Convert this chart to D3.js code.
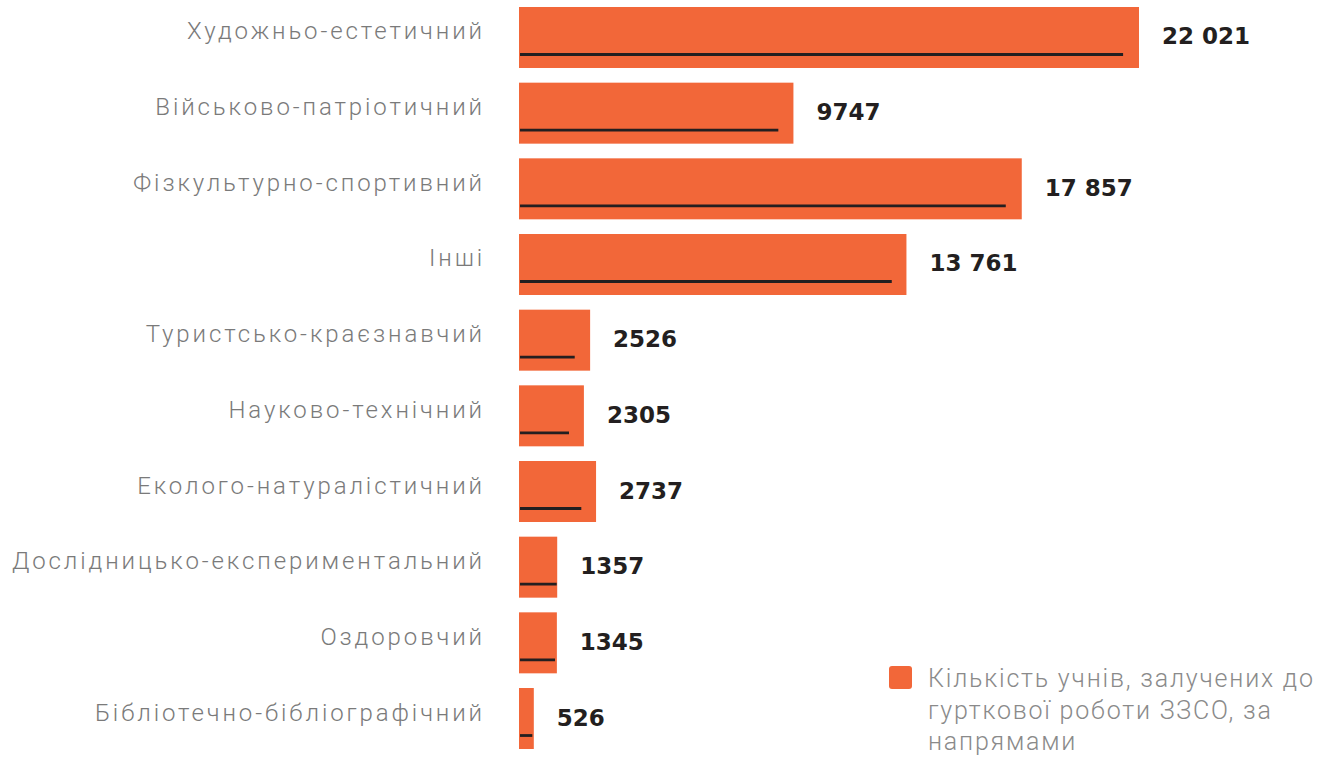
<!DOCTYPE html>
<html>
<head>
<meta charset="utf-8">
<script src="https://cdn.jsdelivr.net/npm/d3@7"></script>
<style>
  html, body { margin: 0; padding: 0; background: #fff; }
  svg { display: block; }
</style>
</head>
<body>
<svg id="chart" width="1334" height="758"></svg>
<script>
const categories = [
  "Художньо-естетичний",
  "Військово-патріотичний",
  "Фізкультурно-спортивний",
  "Інші",
  "Туристсько-краєзнавчий",
  "Науково-технічний",
  "Еколого-натуралістичний",
  "Дослідницько-експериментальний",
  "Оздоровчий",
  "Бібліотечно-бібліографічний"
];
const values = [22021, 9747, 17857, 13761, 2526, 2305, 2737, 1357, 1345, 526];
// dark underline inside each bar
const underlineValues = [21456, 9211, 17289, 13240, 1979, 1776, 2213, 1339, 1279, 472];
const valueLabels = ["22 021", "9747", "17 857", "13 761", "2526", "2305", "2737", "1357", "1345", "526"];
const legendLines = ["Кількість учнів, залучених до", "гурткової роботи ЗЗСО, за", "напрямами"];

const svg = d3.select("#chart");
const orange = "#f26739";
const dark = "#231f20";

const x = d3.scaleLinear().domain([0, 22021]).range([519, 1139]);
const y = d3.scaleBand().domain(categories).range([7, 749]).paddingInner(0.194).paddingOuter(0);

const rows = svg.selectAll("g.row").data(categories).enter().append("g").attr("class", "row");

rows.append("rect")
  .attr("x", x(0))
  .attr("y", d => y(d))
  .attr("width", (d, i) => x(values[i]) - x(0))
  .attr("height", y.bandwidth())
  .attr("fill", orange);

rows.append("line")
  .attr("x1", x(0) + 1)
  .attr("x2", (d, i) => x(underlineValues[i]))
  .attr("y1", d => y(d) + 47.5)
  .attr("y2", d => y(d) + 47.5)
  .attr("stroke", dark)
  .attr("stroke-width", 2.8);

rows.append("text")
  .attr("x", 485)
  .attr("y", d => y(d) + y.bandwidth() / 2 + 2)
  .attr("text-anchor", "end")
  .attr("font-family", "Roboto, 'Liberation Sans', sans-serif")
  .attr("font-weight", 300)
  .attr("font-size", 24)
  .attr("letter-spacing", 2.9)
  .attr("fill", "#7a7a7a")
  .text(d => d);

rows.append("text")
  .attr("x", (d, i) => x(values[i]) + 23)
  .attr("y", d => y(d) + y.bandwidth() / 2 + 7)
  .attr("font-family", "'DejaVu Sans', sans-serif")
  .attr("font-weight", 700)
  .attr("font-size", 23)
  .attr("fill", dark)
  .text((d, i) => valueLabels[i]);

// legend
const lg = svg.append("g");
lg.append("rect")
  .attr("x", 889).attr("y", 666).attr("width", 23).attr("height", 23)
  .attr("rx", 3).attr("fill", orange);
lg.selectAll("text").data(legendLines).enter().append("text")
  .attr("x", 928)
  .attr("y", (d, i) => 687 + i * 31.5)
  .attr("font-family", "Roboto, 'Liberation Sans', sans-serif")
  .attr("font-weight", 300)
  .attr("font-size", 25)
  .attr("letter-spacing", 1.8)
  .attr("fill", "#8a8a8a")
  .text(d => d);
</script>
</body>
</html>
